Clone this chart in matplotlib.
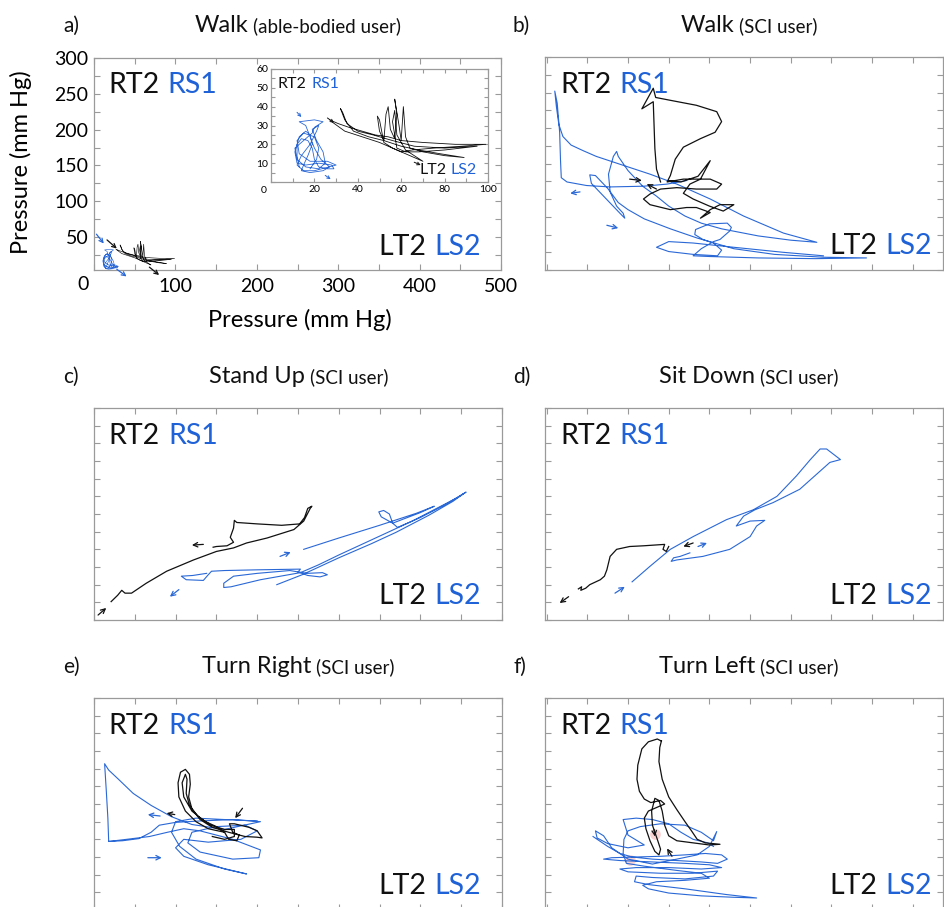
import numpy as np
import matplotlib
matplotlib.use("Agg")
import matplotlib.pyplot as plt
from matplotlib.ticker import MultipleLocator, FuncFormatter

plt.rcParams['font.family'] = ['Lato', 'DejaVu Sans']

nan = np.nan
BLACK = "#111111"
BLUE = "#1f62d8"
LINE_BLUE = "#2a68d6"
SPINE = "#9a9a9a"

# ---- a) Walk, able-bodied user (mm Hg), also shown zoomed in the inset
walk_ab_blue_x = [13, 12, 12, 14, 17, 19, 20, 22, 26, 29, 28, 22, 16, 12, 11, 13, 16, 18, 19, 17,
                  15, 14, 18, 24, 27, 23, 20, 18, 16, 13, 20, 24, 20, 19, 15, 11, 12, 16, 22, 25,
                  24, 21, 19, 22, 21, 18, 14, 12, 15, 20, 30, 26, 18, 13, 12, 15, 20, 22, 21, 18]
walk_ab_blue_y = [8, 14, 20, 23, 22, 18, 12, 8, 7, 7, 9, 10, 9, 10, 16, 24, 27, 25, 20, 14,
                  9, 6, 5, 6, 8, 12, 18, 24, 30, 32, 33, 32, 29, 26, 22, 18, 12, 8, 7, 10,
                  16, 22, 28, 30, 27, 20, 14, 9, 6, 6, 9, 11, 11, 15, 22, 26, 24, 18, 12, 7]
walk_ab_black_x = [27, 31, 36, 42, 48, 54, 60, 70, 85, 99, 88, 75, 65, 60, 56, 52, 50, 49, 50, 52,
                   53, 54, 55, 57, 58, 57, 59, 60, 61, 62, 64, 70, 80, 89, 78, 68, 60, 52, 45, 38,
                   34, 32, 33, 35, 40, 47, 56, 66, 80, 95, 80, 68, 62, 58, 56, 57, 58, 62, 66, 70,
                   66, 58, 50, 42, 34, 28]
walk_ab_black_y = [33, 31, 29, 27, 25, 24, 22, 21, 20, 20, 19, 18, 17, 16, 18, 21, 33, 35, 27, 22,
                   36, 40, 28, 23, 36, 44, 30, 22, 40, 24, 18, 16, 14, 13, 15, 17, 19, 22, 24, 27,
                   33, 39, 37, 31, 27, 25, 22, 19, 18, 19, 17, 16, 16, 18, 32, 38, 25, 17, 14, 11,
                   13, 17, 21, 24, 27, 32]
walk_ab_arrows_black = [(16, 46, 28, 34), (68, 8, 80, -3)]
walk_ab_arrows_blue = [(3, 54, 12, 41), (28, 5, 40, -5)]
inset_arrows_black = [(26, 34, 29, 31.5), (66, 10.5, 69, 9)]
inset_arrows_blue = [(12, 37, 14, 34.5), (25, 3.5, 27.5, 1.5)]

# ---- b) Walk, SCI user
walk_sci_blue_x = [172, 148, 119, 78, 49, 25, 18, 17, 16, 13, 10,
                   12, 15, 20, 30, 45, 61, 90, 127, 160, 201, 242, 291, 332,
                   300, 260, 215, 190, 170, 150, 135, 118, 100, 88, 86, 82, 76, 78, 86, 94, 96, 90, 70, 55,
                   53, 60, 75, 88, 100, 120, 152, 185, 230, 280, 340, 393, 330, 260, 200, 180, 190, 205,
                   213, 225, 227, 222, 200, 183, 182, 192, 205, 215, 210, 180, 150, 135, 150, 180, 230, 290, 340]
walk_sci_blue_y = [126, 121, 118, 117, 119, 124, 130, 156, 194, 235, 252,
                   230, 205, 188, 176, 168, 160, 149, 135, 121, 100, 76, 52, 39,
                   42, 48, 58, 66, 76, 90, 104, 118, 140, 160, 167, 160, 135, 110, 90, 80, 73, 80, 104, 122,
                   134, 133, 115, 95, 85, 72, 58, 45, 30, 22, 18, 17, 16, 17, 19, 20, 30, 40,
                   43, 55, 60, 66, 65, 57, 50, 43, 38, 28, 20, 22, 26, 32, 40, 38, 32, 25, 20]
walk_sci_black_x = [140, 135, 133, 132, 131, 117, 131, 134, 152, 184, 209, 215, 207, 189, 168, 158, 152, 148,
                    168, 201, 215, 209, 184, 160, 140, 127, 119, 127, 152, 172, 184, 201, 189, 201, 213, 230,
                    217, 200, 180, 168, 176, 189, 201, 186, 165, 150]
walk_sci_black_y = [124, 142, 171, 204, 237, 227, 256, 243, 239, 232, 223, 209, 194, 185, 173, 156, 133, 124,
                    128, 128, 121, 114, 114, 116, 114, 107, 100, 92, 85, 88, 88, 81, 73, 85, 92, 92,
                    83, 90, 100, 108, 121, 128, 154, 132, 124, 126]
walk_sci_arrows_black = [(102, 128, 117, 126), (135, 114, 123, 121)]
walk_sci_arrows_blue = [(41, 110, 29, 108), (74, 63, 88, 59)]

# ---- c) Stand up, SCI user
stand_black_x = [21, 29, 34, 38, 46, 64, 89, 122, 150, 171, 187, 212, 245, 257, 265, 267, 262, 258, 252, 230,
                 200, 175, 172, 171, 167, 171, 163, 150, 146]
stand_black_y = [26, 35, 42, 38, 38, 52, 69, 85, 97, 102, 109, 116, 128, 140, 158, 161, 158, 145, 136, 134,
                 136, 138, 141, 130, 117, 110, 105, 104, 103]
stand_blue_x = [257, 300, 350, 395, 417, 400, 375, 366, 362, 355, 349, 352, 366, 372, 400, 430, 456, 445, 420, 390,
                360, 330, 300, 275, 253, 204, 168, 159, 159, 171, 200, 240, 261, 280, 286, 277, 262, 250, 253, 200,
                160, 144, 140, 134, 113, 107, 121, 138, nan, 224, 255, 300, 340, 370, 410, 440, 452]
stand_blue_y = [100, 116, 134, 151, 161, 152, 141, 137, 150, 155, 153, 146, 137, 131, 145, 163, 181, 173, 158, 140,
                124, 108, 92, 78, 67, 57, 47, 46, 52, 62, 66, 70, 66, 67, 64, 61, 63, 68, 72, 71,
                70, 69, 64, 56, 57, 62, 63, 66, nan, 50, 64, 88, 108, 124, 148, 168, 178]
stand_arrows_black = [(5, 7, 15, 17), (134, 107, 120, 106)]
stand_arrows_blue = [(228, 90, 241, 96), (104, 43, 93, 33)]

# ---- d) Sit down, SCI user
sit_black_x = [39, 43, 42, 48, 53, 66, 71, 74, 78, 86, 102, 119, 145, 143, 147, 150]
sit_black_y = [44, 47, 42, 45, 50, 57, 62, 71, 90, 100, 104, 105, 107, 100, 97, 104]
sit_blue_x = [105, 127, 152, 180, 221, 254, 283, 307, 324, 336, 344, 361, 348, 311, 278, 256, 242, 233, 250, 268,
              258, 250, 225, 192, 160, 153, 156, 164, 176]
sit_blue_y = [54, 76, 100, 118, 142, 156, 175, 204, 227, 242, 242, 227, 223, 185, 166, 156, 147, 133, 140, 141,
              133, 118, 100, 90, 85, 83, 88, 90, 95]
sit_arrows_black = [(27, 33, 16, 24), (180, 109, 168, 104)]
sit_arrows_blue = [(186, 104, 197, 109), (84, 38, 96, 47)]

# ---- e) Turn right, SCI user
right_blue_x = [18, 17, 15, 13, 18, 30, 48, 70, 95, 120, 160, 204, 170, 130, 100, 80, 70, 55, 35, 18,
                40, 68, 90, 110, 130, 150, 170, 204, 202, 170, 130, 115, 120, 150, 185, 200, 180, 140, 110, 100,
                110, 140, 187, 160, 125, 105, 95, 100, 125, 160, 200]
right_blue_y = [97, 130, 170, 207, 198, 185, 165, 148, 132, 121, 114, 125, 128, 126, 124, 120, 110, 101, 98, 97,
                100, 104, 110, 115, 112, 106, 100, 85, 74, 72, 82, 95, 110, 118, 120, 112, 100, 96, 100, 88,
                76, 64, 51, 58, 72, 90, 110, 125, 130, 128, 126]
right_black_x = [160, 140, 125, 112, 104, 103, 106, 112, 117, 118, 116, 120, 130, 145, 165, 185, 200, 206, 200, 190,
                 172, 166, 170, 178, 175, 165, 160, 150, 135, 120, 110, 108, 112, 114, 113, 117, 127, 143, 160, 172,
                 172, 160, 145]
right_black_y = [110, 115, 125, 140, 160, 180, 195, 199, 192, 178, 160, 143, 128, 117, 110, 104, 103, 102, 112, 117,
                 122, 122, 110, 106, 98, 100, 110, 118, 126, 140, 160, 180, 192, 185, 165, 148, 133, 120, 114, 114,
                 104, 100, 104]
right_arrows_black = [(99, 135, 89, 137), (182, 144, 173, 130)]
right_arrows_blue = [(66, 74, 83, 74), (81, 133, 66, 135)]

# ---- f) Turn left, SCI user
left_black_x = [141, 136, 125, 117, 112, 111, 114, 120, 128, 140, 145, 135, 125, 120, 122, 127, 133, 138, 140, 136,
                130, 129, 133, 138, 142, 145, 150, 160, 180, 200, 213, 195, 185, 178, 170, 160, 150, 142, 138, 139,
                141]
left_black_y = [239, 242, 238, 228, 205, 185, 168, 157, 152, 155, 150, 145, 140, 130, 115, 98, 83, 78, 86, 100,
                120, 140, 158, 155, 140, 120, 105, 98, 95, 92, 93, 95, 100, 112, 125, 142, 160, 185, 210, 230,
                239]
left_blue_x = [57, 75, 90, 105, 130, 160, 190, 210, 222, 215, 195, 170, 140, 110, 80, 70, 90, 130, 170, 200,
               215, 190, 150, 110, 90, 100, 140, 180, 210, 205, 170, 130, 110, 108, 125, 170, 220, 258, 230, 190,
               150, 125, 118, 135, 170, 200, 190, 160, 120, 98, 94, 95, 100, 115, 140, 170, 190, 205, 209, 200,
               185, 160, 130, 100, 80, 70, 60, 62, 75, 100, 120, 100, 94, 110, 130, 150, 165, 180, 198, 205]
left_blue_y = [104, 90, 80, 75, 72, 70, 68, 66, 72, 78, 80, 78, 76, 75, 74, 72, 70, 68, 66, 64,
               60, 58, 60, 60, 58, 54, 52, 52, 55, 48, 44, 46, 48, 40, 36, 30, 22, 17, 18, 20,
               24, 30, 35, 40, 42, 45, 52, 56, 62, 66, 80, 100, 112, 118, 122, 120, 110, 98, 111, 90,
               78, 72, 65, 72, 88, 105, 112, 102, 94, 88, 92, 106, 128, 130, 128, 122, 110, 100, 95, 90]
left_arrows_black = [(132, 114, 133, 104), (154, 76, 148, 87)]
left_pink_x = [133, 102]
left_pink_y = [107, 71]

W, H = 944, 907
fig = plt.figure(figsize=(W / 100, H / 100), dpi=100)

LABEL_SIZE = 20.5   # RT2 RS1 / LT2 LS2
TICK_SIZE = 14
AXIS_LABEL_SIZE = 17


def add_px_axes(left, top, right, bottom):
    return fig.add_axes([left / W, 1 - bottom / H, (right - left) / W, (bottom - top) / H])


def style_axes(ax, xmaj, xmin, ymaj, ymin, labels=False):
    ax.xaxis.set_major_locator(MultipleLocator(xmaj))
    ax.xaxis.set_minor_locator(MultipleLocator(xmin))
    ax.yaxis.set_major_locator(MultipleLocator(ymaj))
    ax.yaxis.set_minor_locator(MultipleLocator(ymin))
    ax.tick_params(which='both', direction='in', length=4, width=0.8, color=SPINE,
                   top=True, right=True, labelleft=labels, labelbottom=labels)
    for s in ax.spines.values():
        s.set_color(SPINE)
        s.set_linewidth(0.9)


def draw_arrows(ax, arrows, color, scale=8, lw=0.9):
    for x1, y1, x2, y2 in arrows:
        ax.annotate('', xy=(x2, y2), xytext=(x1, y1), annotation_clip=False,
                    arrowprops=dict(arrowstyle='->', color=color, lw=lw, shrinkA=0, shrinkB=0,
                                    mutation_scale=scale))


def corner_labels(ax, tx, ty, bx, by, size):
    t = ax.text(tx, ty, 'RT2', transform=ax.transAxes, fontsize=size, color=BLACK, va='baseline')
    ax.annotate('RS1', xy=(1, 0), xycoords=t, xytext=(size * 0.28, 0), textcoords='offset points',
                fontsize=size, color=BLUE, va='bottom')
    b = ax.text(bx, by, 'LS2', transform=ax.transAxes, fontsize=size, color=BLUE, ha='right', va='baseline')
    ax.annotate('LT2', xy=(0, 0), xycoords=b, xytext=(-size * 0.28, 0), textcoords='offset points',
                fontsize=size, color=BLACK, ha='right', va='bottom')


def panel_header(letter, letter_x, cx, base_y, main, sub):
    fig.text(letter_x / W, 1 - base_y / H, letter, fontsize=15, va='baseline', color=BLACK)
    t1 = fig.text(0, 1 - base_y / H, main, fontsize=17, va='baseline', color=BLACK)
    t2 = fig.text(0, 1 - base_y / H, sub, fontsize=13.5, va='baseline', color=BLACK)
    r = fig.canvas.get_renderer()
    w1 = t1.get_window_extent(r).width
    w2 = t2.get_window_extent(r).width
    gap = 5
    x0 = cx - (w1 + gap + w2) / 2
    t1.set_x(x0 / W)
    t2.set_x((x0 + w1 + gap) / W)


# ---------------- panel a
ax_a = add_px_axes(94, 58, 501, 270)
ax_a.plot(walk_ab_blue_x, walk_ab_blue_y, color=LINE_BLUE, lw=0.45)
ax_a.plot(walk_ab_black_x, walk_ab_black_y, color=BLACK, lw=0.45)
ax_a.set_xlim(0, 500)
ax_a.set_ylim(4, 300)
style_axes(ax_a, 100, 50, 50, 25, labels=True)
ax_a.tick_params(labelsize=TICK_SIZE, pad=4)
ax_a.tick_params(axis='x', pad=6)
ax_a.xaxis.set_major_formatter(FuncFormatter(lambda v, p: '' if v == 0 else f'{v:.0f}'))
draw_arrows(ax_a, walk_ab_arrows_black, BLACK, scale=7)
draw_arrows(ax_a, walk_ab_arrows_blue, LINE_BLUE, scale=7)
corner_labels(ax_a, 0.035, 0.835, 0.952, 0.07, LABEL_SIZE)
fig.text(83 / W, 1 - 285 / H, '0', fontsize=TICK_SIZE, ha='center', va='center')
fig.text(300 / W, 1 - 320 / H, 'Pressure (mm Hg)', fontsize=AXIS_LABEL_SIZE, ha='center', va='center')
fig.text(21 / W, 1 - 162 / H, 'Pressure (mm Hg)', fontsize=AXIS_LABEL_SIZE, ha='center', va='center',
         rotation=90)

ax_in = add_px_axes(271, 69, 488, 182)
ax_in.plot(walk_ab_blue_x, walk_ab_blue_y, color=LINE_BLUE, lw=0.6)
ax_in.plot(walk_ab_black_x, walk_ab_black_y, color=BLACK, lw=0.6)
ax_in.set_xlim(0, 100)
ax_in.set_ylim(0, 60)
style_axes(ax_in, 20, 10, 10, 5, labels=True)
ax_in.tick_params(which='both', length=3, labelsize=7.5, pad=2)
ax_in.xaxis.set_major_formatter(FuncFormatter(lambda v, p: '' if v == 0 else f'{v:.0f}'))
ax_in.yaxis.set_major_formatter(FuncFormatter(lambda v, p: '' if v == 0 else f'{v:.0f}'))
draw_arrows(ax_in, inset_arrows_black, BLACK, scale=5, lw=0.7)
draw_arrows(ax_in, inset_arrows_blue, LINE_BLUE, scale=5, lw=0.7)
corner_labels(ax_in, 0.032, 0.83, 0.95, 0.07, 11.5)
fig.text(264 / W, 1 - 191 / H, '0', fontsize=7.5, ha='center', va='center')

panel_header('a)', 63, 298, 32, 'Walk', '(able-bodied user)')

# ---------------- panels b-f
panels = [
    ('b)', (545, 57, 943, 270), (-2, 487), 'Walk', walk_sci_black_x, walk_sci_black_y,
     walk_sci_blue_x, walk_sci_blue_y, walk_sci_arrows_black, walk_sci_arrows_blue, 32),
    ('c)', (94, 408, 502, 620), (0, 500), 'Stand Up', stand_black_x, stand_black_y,
     stand_blue_x, stand_blue_y, stand_arrows_black, stand_arrows_blue, 383),
    ('d)', (545, 408, 943, 620), (-2, 487), 'Sit Down', sit_black_x, sit_black_y,
     sit_blue_x, sit_blue_y, sit_arrows_black, sit_arrows_blue, 383),
    ('e)', (94, 698, 502, 910), (0, 500), 'Turn Right', right_black_x, right_black_y,
     right_blue_x, right_blue_y, right_arrows_black, right_arrows_blue, 673),
    ('f)', (545, 698, 943, 910), (-2, 487), 'Turn Left', left_black_x, left_black_y,
     left_blue_x, left_blue_y, left_arrows_black, [], 673),
]

for letter, box, xlim, title, kx, ky, bx, by, arr_k, arr_b, base in panels:
    ax = add_px_axes(*box)
    ax.plot(bx, by, color=LINE_BLUE, lw=0.8)
    ax.plot(kx, ky, color=BLACK, lw=0.9)
    ax.set_xlim(*xlim)
    ax.set_ylim(0, 300)
    style_axes(ax, 50, 50, 50, 25)
    draw_arrows(ax, arr_k, BLACK)
    draw_arrows(ax, arr_b, LINE_BLUE)
    right_col = box[0] > 300
    corner_labels(ax, 0.038 if right_col else 0.036, 0.83, 0.972 if right_col else 0.948, 0.075, LABEL_SIZE)
    if letter == 'f)':
        ax.scatter(left_pink_x, left_pink_y, s=60, color='#f08080', alpha=0.35, lw=0)
    letter_x = 513 if right_col else 63
    cx = 749 if right_col else 298.5
    panel_header(letter, letter_x, cx, base, title, '(SCI user)')

fig.savefig('out.png', dpi=100)
